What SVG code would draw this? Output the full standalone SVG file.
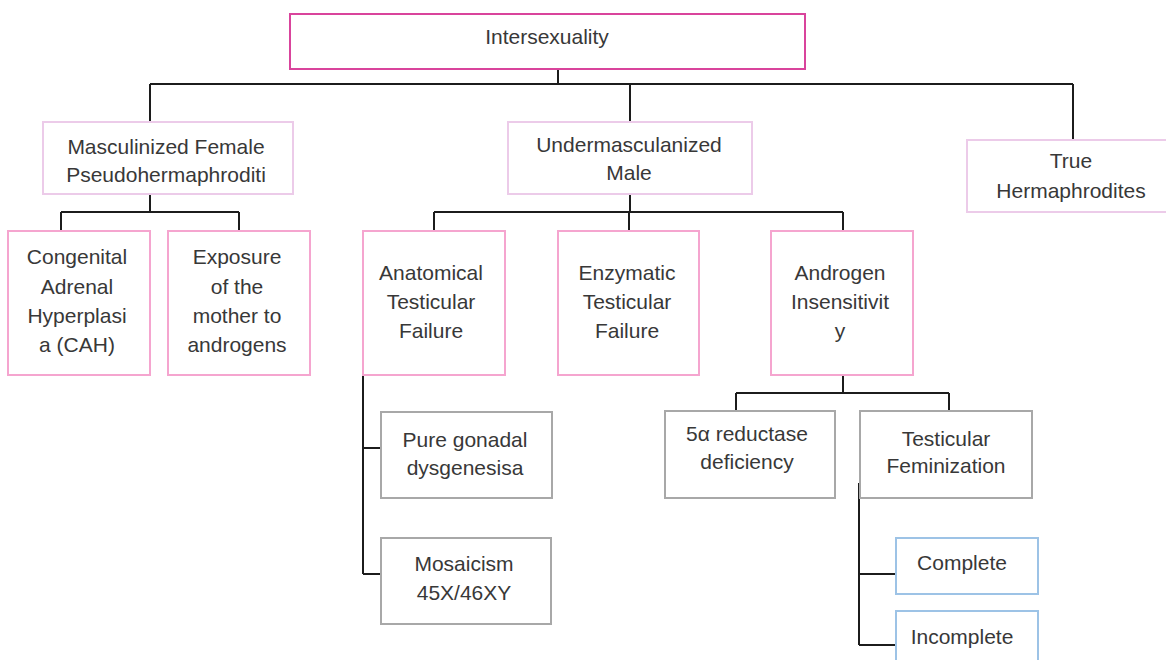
<svg xmlns="http://www.w3.org/2000/svg" width="1166" height="660" viewBox="0 0 1166 660">
<style>
  text { font-family: "Liberation Sans", Arial, sans-serif; font-size: 21px; fill: #383838; text-anchor: middle; }
  rect { fill: #ffffff; stroke-width: 2; }
  .root { stroke: #d9449c; }
  .l2 { stroke: #eccbe9; }
  .l3 { stroke: #f5a5cf; }
  .gray { stroke: #a8a8a8; }
  .blue { stroke: #9dc3e6; }
  #connectors path { fill: none; stroke: #1c1c1c; stroke-width: 2; }
</style>
<rect x="0" y="0" width="1166" height="660" fill="#ffffff" stroke="none"/>
<g id="connectors">
  <path d="M558 69 V84 M150 84 H1073 M150 84 V122 M630 84 V122 M1073 84 V140"/>
  <path d="M150 194 V212 M61 212 H239 M61 212 V231 M239 212 V231"/>
  <path d="M630 194 V212 M434 212 H843 M434 212 V231 M629 212 V231 M843 212 V231"/>
  <path d="M363 375 V574 M363 448 H381 M363 574 H381"/>
  <path d="M843 376 V393 M736 393 H949 M736 393 V411 M949 393 V411"/>
  <path d="M859 483 V645 M859 574 H896 M859 645 H896"/>
</g>
<g id="intersexuality">
  <rect class="root" x="290" y="14" width="515" height="55"/>
  <text x="547" y="44">Intersexuality</text>
</g>
<g id="masculinized-female">
  <rect class="l2" x="43" y="122" width="250" height="72"/>
  <text x="166" y="154">Masculinized Female</text>
  <text x="166" y="182">Pseudohermaphroditi</text>
</g>
<g id="undermasculanized-male">
  <rect class="l2" x="508" y="122" width="244" height="72"/>
  <text x="629" y="152">Undermasculanized</text>
  <text x="629" y="180">Male</text>
</g>
<g id="true-hermaphrodites">
  <rect class="l2" x="967" y="140" width="215" height="72"/>
  <text x="1071" y="168">True</text>
  <text x="1071" y="198">Hermaphrodites</text>
</g>
<g id="cah">
  <rect class="l3" x="8" y="231" width="142" height="144"/>
  <text x="77" y="264">Congenital</text>
  <text x="77" y="294">Adrenal</text>
  <text x="77" y="323">Hyperplasi</text>
  <text x="77" y="352">a (CAH)</text>
</g>
<g id="exposure">
  <rect class="l3" x="168" y="231" width="142" height="144"/>
  <text x="237" y="264">Exposure</text>
  <text x="237" y="294">of the</text>
  <text x="237" y="323">mother to</text>
  <text x="237" y="352">androgens</text>
</g>
<g id="anatomical">
  <rect class="l3" x="363" y="231" width="142" height="144"/>
  <text x="431" y="280">Anatomical</text>
  <text x="431" y="309">Testicular</text>
  <text x="431" y="338">Failure</text>
</g>
<g id="enzymatic">
  <rect class="l3" x="558" y="231" width="141" height="144"/>
  <text x="627" y="280">Enzymatic</text>
  <text x="627" y="309">Testicular</text>
  <text x="627" y="338">Failure</text>
</g>
<g id="androgen">
  <rect class="l3" x="771" y="231" width="142" height="144"/>
  <text x="840" y="280">Androgen</text>
  <text x="840" y="309">Insensitivit</text>
  <text x="840" y="338">y</text>
</g>
<g id="pure-gonadal">
  <rect class="gray" x="381" y="412" width="171" height="86"/>
  <text x="465" y="447">Pure gonadal</text>
  <text x="465" y="475">dysgenesisa</text>
</g>
<g id="mosaicism">
  <rect class="gray" x="381" y="538" width="170" height="86"/>
  <text x="464" y="571">Mosaicism</text>
  <text x="464" y="600">45X/46XY</text>
</g>
<g id="reductase">
  <rect class="gray" x="665" y="411" width="170" height="87"/>
  <text x="747" y="441">5α reductase</text>
  <text x="747" y="469">deficiency</text>
</g>
<g id="testicular-feminization">
  <rect class="gray" x="860" y="411" width="172" height="87"/>
  <text x="946" y="446">Testicular</text>
  <text x="946" y="473">Feminization</text>
</g>
<g id="complete">
  <rect class="blue" x="896" y="538" width="142" height="56"/>
  <text x="962" y="570">Complete</text>
</g>
<g id="incomplete">
  <rect class="blue" x="896" y="611" width="142" height="70"/>
  <text x="962" y="644">Incomplete</text>
</g>
</svg>
